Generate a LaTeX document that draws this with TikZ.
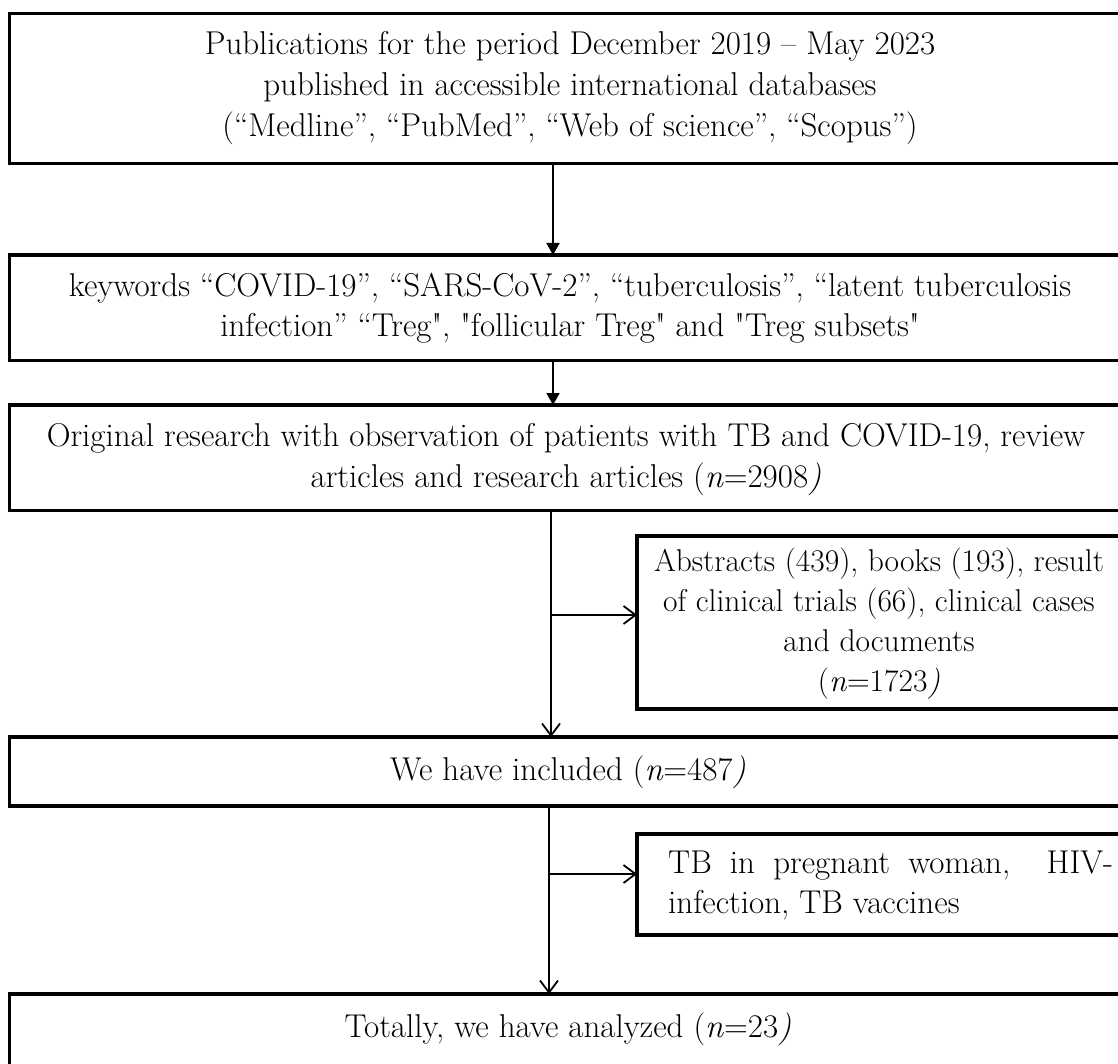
\documentclass[tikz,border=0pt]{standalone}
\usetikzlibrary{arrows.meta}
\begin{document}
\begin{tikzpicture}[x=1pt,y=-1pt,
  box/.style={draw,line width=3.8pt,rectangle,outer sep=0pt,inner sep=0pt,anchor=north west},
  txt/.style={inner sep=0pt,anchor=base,font=\fontsize{33}{40}\selectfont},
  stxt/.style={txt,font=\fontsize{31.5}{40}\selectfont},
  conn/.style={line width=1.8pt},
  fillarr/.style={conn,-{Triangle[length=12pt,width=13pt]}},
  openarr/.style={conn,-{Straight Barb[length=12pt,width=18pt,line width=1.8pt]}}]
\useasboundingbox (0,0) rectangle (1118,1064);
\clip (0,0) rectangle (1118,1064);
% boxes
\node[box,minimum width=1130pt,minimum height=150pt] (b1) at (9.5,13.5) {};
\node[box,minimum width=1130pt,minimum height=105.5pt] (b2) at (9.5,255) {};
\node[box,minimum width=1130pt,minimum height=105.5pt] (b3) at (9.5,405) {};
\node[box,minimum width=503pt,minimum height=173pt] (s1) at (637,536) {};
\node[box,minimum width=1130pt,minimum height=69pt] (b4) at (9.5,737) {};
\node[box,minimum width=503pt,minimum height=101pt] (s2) at (637,834) {};
\node[box,minimum width=1130pt,minimum height=100pt] (b5) at (9.5,994) {};
% texts
\node[txt] (t1a) at (570,55) {Publications for the period December 2019 – May 2023};
\node[txt] (t1b) at (570,96) {published in accessible international databases};
\node[txt] (t1c) at (570,137) {(“Medline”, “PubMed”, “Web of science”, “Scopus”)};
\node[txt] (t2a) at (570,297) {keywords “COVID-19”, “SARS-CoV-2”, “tuberculosis”, “latent tuberculosis};
\node[txt] (t2b) at (570,337) {infection” “Treg\textquotedbl, \textquotedbl follicular Treg\textquotedbl{} and \textquotedbl Treg subsets\textquotedbl};
\node[txt] (t3a) at (566,446) {Original research with observation of patients with TB and COVID-19, review};
\node[txt] (t3b) at (566,487) {articles and research articles (\textit{n}=2908\textit{)}};
\node[stxt] (s1a) at (879,571) {Abstracts (439), books (193), result};
\node[stxt] (s1b) at (879,611) {of clinical trials (66), clinical cases};
\node[stxt] (s1c) at (879,651) {and documents};
\node[stxt] (s1d) at (879,691) {(\textit{n}=1723\textit{)}};
\node[txt] (t4) at (568,780) {We have included (\textit{n}=487\textit{)}};
\node[txt,anchor=base west] (s2a) at (668,873) {\makebox[445pt][s]{TB in pregnant woman,\ \ HIV-}};
\node[txt,anchor=base west] (s2b) at (668,913) {infection, TB vaccines};
\node[txt] (t5) at (568,1037) {Totally, we have analyzed (\textit{n}=23\textit{)}};
% connectors
\coordinate (xa) at (553,0);
\coordinate (xb) at (551,0);
\coordinate (xc) at (549,0);
\coordinate (ya) at (0,615);
\coordinate (yb) at (0,874);
\draw[fillarr] (b1.south -| xa) -- (b2.north -| xa);
\draw[fillarr] (b2.south -| xa) -- (b3.north -| xa);
\draw[openarr] (b3.south -| xb) -- (b4.north -| xb);
\draw[openarr] (xb |- ya) -- (s1.west |- ya);
\draw[openarr] (b4.south -| xc) -- (b5.north -| xc);
\draw[openarr] (xc |- yb) -- (s2.west |- yb);
\end{tikzpicture}
\end{document}
